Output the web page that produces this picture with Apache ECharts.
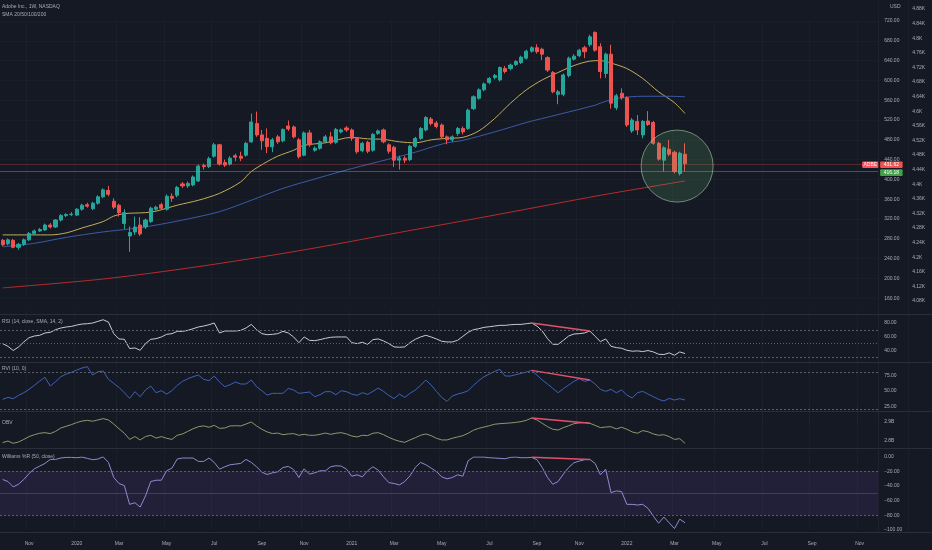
<!DOCTYPE html>
<html><head><meta charset="utf-8">
<script src="https://cdn.jsdelivr.net/npm/echarts@6/dist/echarts.min.js"></script>
<style>html,body{margin:0;padding:0;background:#151924;}#c{width:932px;height:550px;}</style>
</head><body><div id="c"></div>
<script>
// ---------- data (weekly bars, first bar = week of 2019-09-30) ----------
const open = [277,270,277,263,269,278,291,296,298,308, 304,318,327,329,328,340,349,341,352,365,
 378,356,348,311,286,294,308,304,315,340, 349,340,366,368,391,387,389,397,428,426,
 447,470,434,431,448,447,449,476,513,490, 483,466,486,478,508,506,480,449,494,459,
 463,476,486,475,496,504,500,483,458,475, 459,493,500,470,465,439,443,440,467,483,
 500,522,514,510,486,480,493,503,503,543, 564,581,596,606,601,624,624,632,636,645,
 659,666,663,646,616,572,572,610,643,650, 666,672,697,668,614,653,545,574,565,498,
 517,490,518,515,473,439,461,455,412,451];
const close = [268,278,263,269,278,291,296,299,308,304, 318,327,329,330,340,348,346,352,365,379,
 370,344,333,333,293,304,290,318,342,344, 342,366,362,384,387,392,405,427,426,442,
 470,431,429,443,445,443,473,516,490,478, 466,480,476,501,502,486,446,494,470,463,
 476,486,474,501,500,500,483,456,473,457, 491,498,476,457,439,443,439,467,483,503,
 525,513,507,486,480,486,503,496,540,567, 581,593,604,610,626,618,631,638,647,659,
 666,658,653,621,577,577,611,645,649,661, 658,688,661,618,653,554,569,565,510,520,
 500,517,511,473,441,464,451,416,453,431.62];
const high = [280,281,280,272,281,294,299,302,311,312, 320,330,332,334,342,351,353,355,368,382,
 387,362,351,340,305,325,324,321,345,347, 353,370,372,387,395,396,408,430,432,446,
 474,472,440,447,452,456,476,533,537,500, 503,484,490,503,519,509,484,497,500,467,
 479,490,496,504,503,508,503,486,476,478, 494,501,503,473,468,448,447,470,486,506,
 528,526,518,513,489,489,506,507,543,570, 584,596,607,613,628,629,634,641,650,662,
 669,673,666,649,619,581,614,648,653,664, 670,692,699,675,656,672,573,584,568,524,
 530,520,538,518,476,467,480,458,456,473];
const low = [265,267,261,258,266,276,288,294,296,301, 302,315,324,326,326,337,343,338,349,362,
 366,340,325,300,254,288,286,300,312,337, 339,337,355,364,383,383,386,395,420,423,
 444,428,425,428,437,437,446,474,486,460, 453,455,472,475,498,483,442,447,466,456,
 460,473,471,472,493,496,478,452,455,453, 456,490,473,452,425,420,433,437,464,480,
 497,509,503,483,471,476,488,491,500,540, 561,578,592,602,598,614,620,629,633,642,
 656,654,641,617,574,552,568,606,640,647, 645,668,658,604,605,543,540,561,506,494,
 490,483,508,470,438,416,447,412,408,416];

// moving averages as [barIndex, price]
const sma20 = [[0,288],[9,288],[12,292],[15,302],[19,315],[21,326],[23,331],[27,333],[29,336],[33,348],
 [37,358],[41,372],[45,395],[47,416],[50,436],[52,447],[55,459],[57,469],[61,474],[66,485],[69,482],
 [72,481],[75,476],[78,474],[81,480],[84,483],[87,485],[90,498],[93,523],[96,554],[99,581],[102,601],
 [105,616],[108,630],[111,639],[113,640],[115,635],[118,624],[121,604],[124,577],[127,555],[129,533]];
const sma50 = [[0,264],[6,271],[12,283],[19,294],[24,300],[28,306],[34,318],[41,335],[47,358],[53,382],
 [60,404],[66,422],[73,441],[78,455],[81,465],[84,474],[87,479],[93,496],[99,515],[105,531],[112,550],
 [114,558],[117,565],[121,568],[126,568],[129,567]];
const sma200 = [[0,181],[19,199],[37,224],[56,256],[75,293],[94,330],[113,368],[124,388],[129,397]];

const rsi = [50,46,40,45,52.4,58.7,61.1,62.1,65.5,66.4, 70.3,72.7,74.2,75.1,77,78.5,79,80,82.4,84.8,
 81.4,64.5,56.8,56.3,42.8,43.7,40.3,50,56.3,57.2, 59.7,63.5,64.5,67.9,67.9,69.3,71.7,74.2,75.6,77.5,
 80,65.5,68.4,68.4,68.4,69.3,72.7,78,70.3,64.5, 63,63.5,64.5,67.9,65.5,59.7,51.4,59.7,54.8,54.3,
 55.8,57.7,59.2,59.7,59.7,59.7,51.4,50,51.9,49, 55.8,56.8,53.9,50,45.2,44.7,45.2,51.4,56.3,59.7,
 62.1,59.7,56.8,53.4,52.4,52.4,54.8,60.6,66.4,70.3, 71.7,73.7,74.6,75.6,76.6,76.6,77.5,78,78,79,
 80,75.6,68.4,57.2,49,49,54.8,61.1,64,64.5, 65.5,68.4,60.6,52.9,56.8,46.1,44.2,43.2,40.3,38.9,
 39.4,38.4,39.9,37.9,34.5,34.1,36.5,33.1,37.9,35.5];
const rvi = [36.4,39.6,37.5,42.9,47.2,52.7,59.2,66.2,72.2,58.1, 65.2,73.3,77.6,80.4,84.2,87.4,89.6,76,81.4,82.5,
 69,62.4,55.9,47.2,38,48.9,40.7,51.6,58.1,47.2, 50.5,45,50.5,59.2,65.7,70,73.3,76,69,66.8,
 74.4,64.6,57,60.3,64.6,61.4,61.4,67.9,57,50.5, 43.4,46.2,46.2,46.2,54.3,51.6,46.2,47.2,48.3,40.7,
 44,48.9,48.9,44,50.5,48.9,45,42.9,47.2,44.5, 49.4,54.8,49.4,42.9,37.5,45,39.6,46.2,51.6,59.2,
 67.9,59.7,49.4,39.6,33.1,41.8,45,47.2,50.5,59.2, 66.8,73.3,77.6,82,85.2,74.4,74.4,76.6,78.7,80.9,
 83.6,76,67.9,61.4,54.3,47.2,53.8,59.7,65.7,70, 65.7,67.9,61.4,52.7,49.4,52.7,47.2,51.6,43.4,38.6,
 47.2,49.4,45,40.7,36.4,33.7,38,35.3,37.5,35.3];
const obv = [2.790,2.798,2.786,2.793,2.807,2.822,2.832,2.840,2.843,2.838, 2.850,2.868,2.877,2.886,2.897,2.905,2.909,2.904,2.911,2.918,
 2.911,2.889,2.864,2.840,2.807,2.822,2.804,2.822,2.829,2.814, 2.822,2.813,2.807,2.829,2.836,2.850,2.864,2.875,2.879,2.872,
 2.882,2.866,2.868,2.879,2.880,2.879,2.889,2.900,2.879,2.861, 2.847,2.838,2.841,2.832,2.836,2.838,2.829,2.834,2.829,2.829,
 2.834,2.841,2.834,2.840,2.843,2.836,2.825,2.820,2.829,2.827, 2.840,2.843,2.832,2.818,2.806,2.797,2.791,2.804,2.816,2.829,
 2.836,2.827,2.813,2.804,2.804,2.813,2.820,2.827,2.840,2.856, 2.866,2.873,2.880,2.888,2.891,2.893,2.895,2.898,2.902,2.909,
 2.921,2.911,2.893,2.875,2.861,2.857,2.870,2.880,2.891,2.895, 2.897,2.893,2.882,2.870,2.873,2.875,2.863,2.872,2.861,2.847,
 2.840,2.854,2.848,2.836,2.829,2.832,2.822,2.807,2.811,2.786];
const wpr = [-31.1,-33.9,-41.2,-37.6,-31.1,-22.9,-16.5,-12.8,-9.2,-3.7, -3.7,-1.8,-0.9,-0.9,-1.4,-0.5,-2.3,-4.1,-3.2,-0.2,
 -7.8,-28.4,-36.6,-39.4,-65,-62.8,-68.7,-53.6,-33.9,-32.1, -32.1,-19.2,-15.6,-3.2,-1.8,-1.8,-1.8,-6.4,-6.4,-1.8,
 -7.8,-17,-13.7,-11,-10.1,-9.2,-3.7,-7.8,-13.7,-21.1, -24.3,-22,-20.6,-14.7,-13.3,-17.4,-28.4,-16.5,-23.8,-22,
 -19.2,-19.2,-13.7,-12.4,-12.8,-17,-26.6,-24.7,-27.5,-19.2, -13.7,-18.3,-27.5,-35.3,-36.6,-38.5,-33.9,-26.1,-14.7,-7.8,
 -11,-15.6,-20.2,-27.5,-30.2,-28.4,-24.7,-26.6,-5.5,-0.5, -0.5,-0.5,-1.4,-1.8,-2.3,-2.8,-0.9,-0.5,-1.4,-1.4,
 -0.9,-4.1,-14.7,-28.4,-37.6,-33.9,-23.8,-14.7,-8.2,-6, -4.1,-3.7,-9.2,-24.7,-17,-49,-46.7,-47.6,-65,-65,
 -65.9,-65,-70.5,-81.1,-90.7,-82.4,-90.2,-98,-85.2,-90.2];

// divergence drawings [barIndex, value]
const rsiDiv = [[100,80],[111,68.4]];
const rviDiv = [[100,83.6],[111,67.9]];
const obvDiv = [[100,2.921],[111,2.893]];
const wprDiv = [[100,-0.9],[111,-3.7]];

const lastPrice = 431.62;
const levelPrice = 416.18;
const circleCenter = [127.5, 427];

const tickLabels = ['Nov','2020','Mar','May','Jul','Sep','Nov','2021','Mar','May','Jul','Sep','Nov','2022','Mar','May','Jul','Sep','Nov'];
const tickIndex  = [5,14,22,31,40,49,57,66,74,83,92,101,109,118,127,135,144,153,162];
const rsiTicks = [80,60,40];
const rviTicks = [75,50,25];
const obvTicks = [2.9,2.8];

// ---------- layout ----------
const N = 166, BAR = 5.296, LEFT = -1, PW = N * BAR;
const categories = [];
const t0 = Date.UTC(2019, 8, 30);
for (let i = 0; i < N; i++) categories.push(new Date(t0 + i * 7 * 864e5).toISOString().slice(0, 10));

const font = 'Liberation Sans';
const txt = '#a9acb5';
const grids = [
  {top: 21, height: 277.3},   // price
  {top: 9, height: 292},      // secondary scale
  {top: 309.3, height: 54.9}, // RSI
  {top: 360.3, height: 61.4}, // RVI
  {top: 403.3, height: 56.1}, // OBV
  {top: 456.7, height: 73.3}  // Williams %R
];
const isTick = (i) => tickIndex.indexOf(i) >= 0;
function xCat(gi, showLabels) {
  return {
    type: 'category', gridIndex: gi, data: categories, boundaryGap: true,
    axisLine: {show: false}, axisTick: {show: false},
    axisLabel: {show: showLabels, interval: (i) => isTick(i),
      formatter: (v, i) => { const k = tickIndex.indexOf(i); return k < 0 ? '' : tickLabels[k]; },
      color: txt, fontSize: 5, fontFamily: font, margin: 11},
    splitLine: {show: gi !== 1, interval: (i) => isTick(i), lineStyle: {color: 'rgba(255,255,255,0.025)', width: 1}}
  };
}
const lbl = (extra) => Object.assign({color: txt, fontSize: 5, fontFamily: font, margin: 6}, extra);
const yBase = {type: 'value', position: 'right', axisLine: {show: false}, axisTick: {show: false}, splitLine: {show: false}};
const dash = (v, type) => ({yAxis: v, lineStyle: {color: '#5b5e69', width: 1, type: type || [2, 2]}});
const divStyle = {color: '#e0526a', width: 1.5};
const lineS = (xi, data, color) => ({type: 'line', xAxisIndex: xi, yAxisIndex: xi, data: data, showSymbol: false, symbol: 'none',
  lineStyle: {color: color, width: 1}, z: 3, animation: false});

const chart = echarts.init(document.getElementById('c'));
const option = {
  backgroundColor: '#151924',
  animation: false,
  textStyle: {fontFamily: font},
  title: [
    {text: 'Adobe Inc., 1W, NASDAQ', left: 2, top: 3.7},
    {text: 'SMA 20/50/100/200', left: 2, top: 12.3},
    {text: 'RSI (14, close, SMA, 14, 2)', left: 2, top: 318.7},
    {text: 'RVI (10, 0)', left: 2, top: 366.5},
    {text: 'OBV', left: 2, top: 419.7},
    {text: 'Williams %R (50, close)', left: 2, top: 453.7},
    {text: 'USD', left: 890, top: 4}
  ].map(t => Object.assign(t, {padding: 0, textStyle: {fontSize: 5, fontWeight: 'normal', color: txt, fontFamily: font}})),
  grid: grids.map(g => ({left: LEFT, width: PW, top: g.top, height: g.height})),
  xAxis: [xCat(0, false), xCat(1, false), xCat(2, false), xCat(3, false), xCat(4, false), xCat(5, true),
    {type: 'value', gridIndex: 0, min: -0.5, max: N - 0.5, show: false}],
  yAxis: [
    Object.assign({}, yBase, {gridIndex: 0, min: 160, max: 720, interval: 40,
      splitLine: {show: true, lineStyle: {color: 'rgba(255,255,255,0.025)'}},
      axisLabel: lbl({formatter: v => v.toFixed(2)})}),
    Object.assign({}, yBase, {gridIndex: 1, min: 4080, max: 4880, interval: 40,
      axisLabel: lbl({margin: 34, formatter: v => (v / 1000).toFixed(2).replace(/0+$/, '').replace(/\.$/, '') + 'K'})}),
    Object.assign({}, yBase, {gridIndex: 2, min: 20, max: 100, interval: 20,
      axisLabel: lbl({formatter: v => rsiTicks.indexOf(v) >= 0 ? v.toFixed(2) : ''})}),
    Object.assign({}, yBase, {gridIndex: 3, min: 0, max: 100, interval: 25,
      axisLabel: lbl({formatter: v => rviTicks.indexOf(v) >= 0 ? v.toFixed(2) : ''})}),
    Object.assign({}, yBase, {gridIndex: 4, min: 2.7, max: 3.0, interval: 0.1,
      axisLabel: lbl({formatter: v => { const r = Math.round(v * 10) / 10; return obvTicks.indexOf(r) >= 0 ? r.toFixed(1) + 'B' : ''; }})}),
    Object.assign({}, yBase, {gridIndex: 5, min: -100, max: 0, interval: 20,
      axisLabel: lbl({formatter: v => (v < 0 ? '\u2212' : '') + Math.abs(v).toFixed(2)})})
  ],
  series: [
    {type: 'candlestick', xAxisIndex: 0, yAxisIndex: 0, barWidth: 3.6, z: 4,
      data: open.map((o, i) => [o, close[i], low[i], high[i]]),
      itemStyle: {color: '#26a69a', color0: '#ef5350', borderColor: '#26a69a', borderColor0: '#ef5350', borderWidth: 1},
      markLine: {symbol: 'none', silent: true, label: {show: false}, animation: false,
        data: [
          {yAxis: lastPrice, lineStyle: {color: 'rgba(239,83,80,0.28)', width: 1, type: 'solid'}},
          {yAxis: levelPrice, lineStyle: {color: 'rgba(140,160,110,0.45)', width: 1, type: 'solid'}}
        ]}},
    {type: 'line', xAxisIndex: 0, yAxisIndex: 0, data: sma20, smooth: 0.3, showSymbol: false, symbol: 'none', lineStyle: {color: '#c2ae5c', width: 1}, z: 3},
    {type: 'line', xAxisIndex: 0, yAxisIndex: 0, data: sma50, smooth: 0.3, showSymbol: false, symbol: 'none', lineStyle: {color: '#3b5ba8', width: 1}, z: 3},
    {type: 'line', xAxisIndex: 0, yAxisIndex: 0, data: sma200, smooth: 0.3, showSymbol: false, symbol: 'none', lineStyle: {color: '#b82c2c', width: 1}, z: 3},
    {type: 'scatter', xAxisIndex: 6, yAxisIndex: 0, data: [circleCenter], symbol: 'circle', symbolSize: 72, silent: true, z: 6,
      itemStyle: {color: 'rgba(110,190,120,0.22)', borderColor: 'rgba(175,215,175,0.7)', borderWidth: 1}},
    {type: 'line', xAxisIndex: 1, yAxisIndex: 1, data: []},
    Object.assign(lineS(2, rsi, '#c8cad0'), {markLine: {symbol: 'none', silent: true, label: {show: false},
      data: [dash(70), dash(50, [1, 2]), dash(30)]}}),
    Object.assign(lineS(2, rsiDiv, divStyle.color), {lineStyle: divStyle, z: 5}),
    Object.assign(lineS(3, rvi, '#3f62b6'), {markLine: {symbol: 'none', silent: true, label: {show: false},
      data: [dash(80), dash(20)]}}),
    Object.assign(lineS(3, rviDiv, divStyle.color), {lineStyle: divStyle, z: 5}),
    lineS(4, obv, '#8a9a6d'),
    Object.assign(lineS(4, obvDiv, divStyle.color), {lineStyle: divStyle, z: 5}),
    Object.assign(lineS(5, wpr, '#8f8bd0'), {
      markLine: {symbol: 'none', silent: true, label: {show: false},
        data: [dash(-20), dash(-80), {yAxis: -50, lineStyle: {color: 'rgba(140,130,190,0.3)', width: 1, type: 'solid'}}]},
      markArea: {silent: true, itemStyle: {color: 'rgba(126,87,194,0.13)'}, data: [[{yAxis: -20}, {yAxis: -80}]]}}),
    Object.assign(lineS(5, wprDiv, divStyle.color), {lineStyle: divStyle, z: 5})
  ]
};
chart.setOption(option);

// price tags & pane separators (positions taken from the price axis)
const xr = LEFT + PW;
const yLast = chart.convertToPixel({yAxisIndex: 0}, lastPrice);
const yLvl = chart.convertToPixel({yAxisIndex: 0}, levelPrice);
function tag(x, y, w, fill, text) {
  return {type: 'group', x: x, y: y - 3.3, z: 100, children: [
    {type: 'rect', shape: {x: 0, y: 0, width: w, height: 6.6, r: 1}, style: {fill: fill}},
    {type: 'text', x: w / 2, y: 3.3, style: {text: text, fill: '#ffffff', font: '5px ' + font, align: 'center', verticalAlign: 'middle'}}
  ]};
}
const sepY = [314.5, 362.5, 411.5, 448.5, 532.5];
const graphics = sepY.map(y => ({type: 'line', z: 50, shape: {x1: 0, y1: y, x2: 932, y2: y}, style: {stroke: '#2a2e39', lineWidth: 1}}));
graphics.push({type: 'line', z: 50, shape: {x1: xr + 0.5, y1: 0, x2: xr + 0.5, y2: 532}, style: {stroke: '#23273280', lineWidth: 1}});
graphics.push({type: 'line', z: 50, shape: {x1: xr + 30.5, y1: 0, x2: xr + 30.5, y2: 532}, style: {stroke: '#23273280', lineWidth: 1}});
graphics.push(tag(xr - 16, yLast + 1, 16.3, '#f7525f', 'ADBE'));
graphics.push(tag(xr + 2, yLast + 1, 22.5, '#ef5350', lastPrice.toFixed(2)));
graphics.push(tag(xr + 2, yLvl + 1.2, 22.5, '#43a047', levelPrice.toFixed(2)));
chart.setOption({graphic: graphics});
</script>
</body></html>
